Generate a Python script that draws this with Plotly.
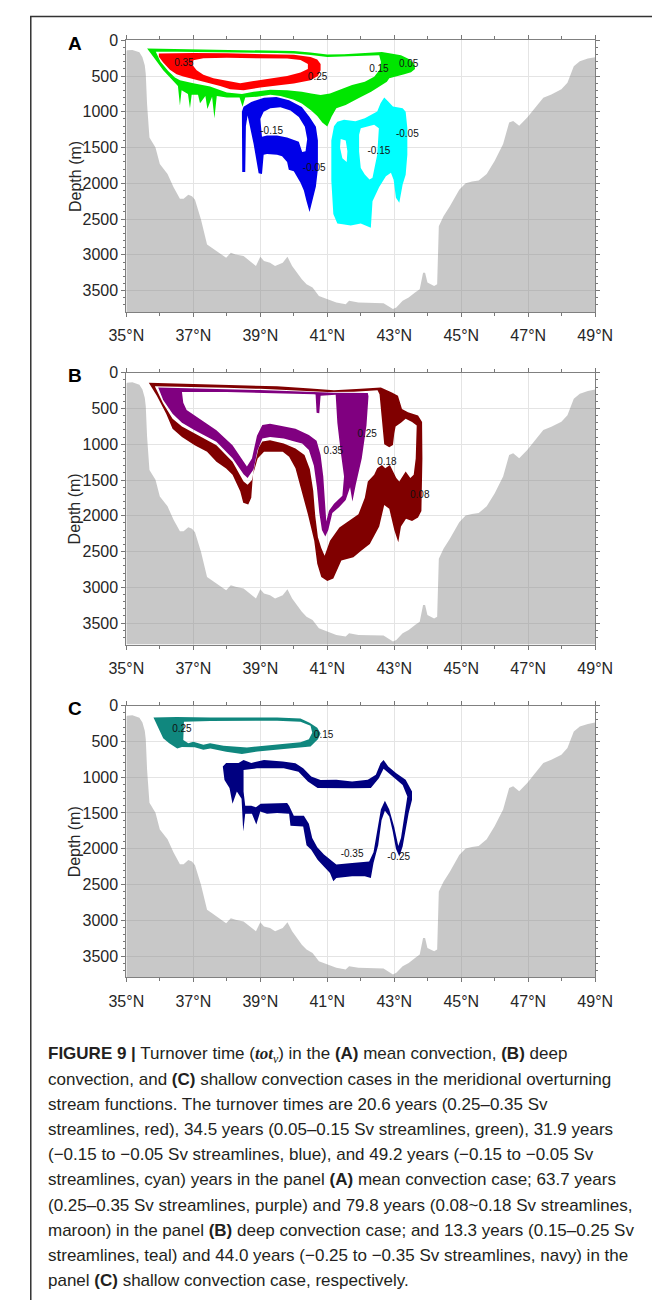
import plotly.graph_objects as go

W, H = 670, 1300

# ---------------- shared bathymetry (latitude, depth m) ----------------
bathy_lat = [35.0, 35.02, 35.18, 35.39, 35.48, 35.55, 35.58, 35.62, 35.69, 35.8, 35.87, 36.0, 36.12,
             36.23, 36.41, 36.6, 36.71, 36.85, 36.96, 37.05, 37.23, 37.41, 37.55, 37.7, 37.98, 38.12,
             38.26, 38.5, 38.73, 38.87, 39.0, 39.11, 39.29, 39.44, 39.67, 39.81, 39.95, 40.09, 40.24,
             40.38, 40.56, 40.75, 40.99, 41.27, 41.55, 41.65, 41.93, 42.31, 42.68, 42.96, 43.06, 43.25,
             43.43, 43.62, 43.76, 43.86, 43.92, 43.99, 44.19, 44.28, 44.33, 44.47, 44.66, 44.94, 45.13,
             45.32, 45.52, 45.76, 46.0, 46.25, 46.43, 46.55, 46.73, 46.97, 47.21, 47.39, 47.45, 47.69,
             47.99, 48.17, 48.36, 48.54, 48.78, 49.0]
bathy_dep = [150, 140, 134, 167, 236, 350, 470, 900, 1358, 1440, 1497, 1730, 1800,
             1868, 2054, 2216, 2216, 2159, 2180, 2230, 2507, 2854, 2900, 2947, 3040, 2970,
             2993, 3016, 3109, 3155, 3026, 3086, 3109, 3155, 3109, 3026, 3155, 3248, 3341,
             3410, 3457, 3573, 3619, 3665, 3689, 3642, 3665, 3665, 3675, 3758, 3735, 3642,
             3596, 3526, 3480, 3248, 3248, 3387, 3434, 3410, 2599, 2460, 2321, 2089, 1997,
             1974, 1960, 1868, 1683, 1451, 1150, 1127, 1196, 1080, 941, 848, 802, 756,
             686, 593, 362, 292, 255, 236]
depth_max = 3800

x_tick_vals = [35, 37, 39, 41, 43, 45, 47, 49]
x_tick_text = ["35°N", "37°N", "39°N", "41°N", "43°N", "45°N", "47°N", "49°N"]
x_minor_vals = [36, 38, 40, 42, 44, 46, 48]
y_tick_vals = [0, 500, 1000, 1500, 2000, 2500, 3000, 3500]
y_tick_text = ["0", "500", "1000", "1500", "2000", "2500", "3000", "3500"]
y_minor_vals = [v for v in range(100, 3800, 100) if v % 500 != 0]

# ---------------- Panel A : mean convection ----------------
a_green_outer = [(35.62, 115), (36.0, 118), (37.0, 125), (38.0, 130), (39.0, 138), (40.0, 150), (40.5, 170),
                 (41.0, 200), (41.5, 195), (42.0, 185), (42.4, 172), (42.63, 165), (42.9, 185), (43.2, 210),
                 (43.45, 265), (43.6, 330), (43.62, 400), (43.5, 445), (43.3, 475), (43.0, 505), (42.85, 530),
                 (42.78, 580), (42.5, 660), (42.31, 718), (41.93, 811), (41.55, 904), (41.27, 950),
                 (41.13, 1066), (41.0, 1205), (40.85, 1150), (40.7, 1060), (40.52, 980), (40.24, 885),
                 (40.0, 830), (39.6, 780), (39.3, 760), (38.9, 790), (38.55, 800), (38.47, 930), (38.38, 800),
                 (38.0, 800), (37.7, 780), (37.63, 1090), (37.56, 790), (37.42, 960), (37.36, 780), (37.2, 880),
                 (37.14, 760), (36.95, 760), (36.9, 950), (36.84, 750), (36.65, 700), (36.6, 910), (36.54, 640),
                 (36.38, 560), (36.1, 420), (35.81, 232)]
a_green_inner = [(35.88, 160), (36.5, 160), (37.5, 163), (38.5, 168), (39.5, 176), (40.0, 185), (40.5, 205),
                 (41.0, 235), (41.5, 232), (42.0, 222), (42.55, 210), (42.6, 300), (42.58, 400), (42.4, 510),
                 (42.12, 579), (41.74, 626), (41.36, 695), (41.08, 742), (40.8, 765), (40.52, 742),
                 (40.24, 718), (39.8, 700), (39.3, 690), (38.8, 720), (38.45, 750), (38.0, 730), (37.5, 645),
                 (37.0, 600), (36.6, 560), (36.45, 520), (36.25, 430), (36.02, 300)]
a_red_outer = [(35.97, 185), (36.5, 178), (37.0, 178), (38.0, 182), (39.0, 190), (40.0, 203), (40.5, 235),
               (40.7, 270), (40.8, 330), (40.8, 420), (40.72, 500), (40.5, 560), (40.0, 605), (39.5, 630),
               (39.0, 660), (38.5, 700), (38.1, 685), (37.8, 640), (37.5, 605), (37.0, 545), (36.7, 505),
               (36.5, 475), (36.3, 410), (36.1, 310), (35.97, 230)]
a_red_inner = [(37.0, 280), (37.3, 250), (38.0, 245), (39.0, 250), (39.8, 255), (40.2, 275), (40.42, 330),
               (40.42, 400), (40.2, 450), (39.8, 500), (39.3, 540), (38.8, 570), (38.4, 600), (38.0, 570),
               (37.6, 530), (37.3, 480), (37.1, 420), (36.98, 350)]
a_blue_outer = [(38.46, 1840), (38.45, 1000), (38.5, 930), (38.73, 862), (39.11, 802), (39.48, 792),
                (39.86, 839), (40.24, 932), (40.47, 1071), (40.66, 1209), (40.72, 1400), (40.72, 1800),
                (40.66, 2044), (40.52, 2322), (40.47, 2400), (40.38, 2250), (40.3, 2100), (40.2, 1990),
                (40.1, 1900), (40.0, 1830), (39.85, 1810), (39.8, 1700), (39.65, 1620), (39.5, 1600),
                (39.2, 1590), (39.1, 1600), (39.05, 1870), (38.95, 1860), (38.8, 1450), (38.62, 1050),
                (38.57, 1200), (38.55, 1840)]
a_blue_inner = [(39.0, 1100), (39.1, 1000), (39.3, 950), (39.6, 935), (39.9, 980), (40.15, 1071),
                (40.33, 1209), (40.4, 1380), (40.35, 1550), (40.25, 1560), (40.15, 1420), (40.0, 1400),
                (39.8, 1360), (39.5, 1330), (39.2, 1330), (39.05, 1350)]
a_cyan_outer = [(41.2, 1200), (41.3, 1140), (41.5, 1110), (41.84, 1130), (42.12, 1090), (42.49, 997),
                (42.59, 880), (42.7, 800), (42.82, 857), (42.96, 925), (43.25, 950), (43.34, 1000),
                (43.39, 1230), (43.39, 1600), (43.34, 1880), (43.25, 2016), (43.15, 2270), (43.05, 2200),
                (42.98, 1950), (42.9, 1850), (42.75, 1900), (42.55, 2050), (42.35, 2250), (42.3, 2620),
                (42.0, 2560), (41.7, 2590), (41.46, 2570), (41.3, 2560), (41.18, 2430), (41.12, 1960),
                (41.12, 1400)]
a_cyan_hole1 = [(42.0, 1228), (42.4, 1182), (42.54, 1228), (42.49, 1599), (42.35, 1923), (42.26, 1947),
                (42.12, 1877), (42.0, 1784), (41.95, 1553), (41.95, 1321)]
a_cyan_hole2 = [(41.4, 1380), (41.55, 1400), (41.6, 1550), (41.58, 1700), (41.45, 1650), (41.38, 1500)]
a_label_lat = [36.72, 40.71, 42.54, 43.43, 39.34, 40.61, 43.39, 42.54]
a_label_dep = [330, 524, 412, 338, 1279, 1789, 1311, 1557]
a_label_txt = ["0.35", "0.25", "0.15", "0.05", "-0.15", "-0.05", "-0.05", "-0.15"]

# ---------------- Panel B : deep convection ----------------
b_maroon_outer = [(35.67, 140), (36.5, 150), (37.5, 160), (38.5, 170), (39.5, 190), (40.5, 220), (41.2, 245),
                  (42.0, 225), (42.6, 205), (42.93, 276), (43.11, 322), (43.23, 506), (43.41, 552),
                  (43.71, 598), (43.83, 690), (43.84, 1200), (43.81, 1933), (43.71, 2025), (43.53, 2071),
                  (43.35, 2040), (43.2, 2150), (43.12, 2370), (43.0, 2200), (42.85, 1900), (42.7, 1850),
                  (42.55, 2150), (42.39, 2301), (42.27, 2394), (42.02, 2486), (41.78, 2578), (41.42, 2624),
                  (41.3, 2762), (41.18, 2877), (41.0, 2910), (40.82, 2854), (40.7, 2670), (40.61, 2348),
                  (40.42, 1979), (40.24, 1657), (40.05, 1335), (39.86, 1174), (39.67, 1104), (39.29, 1104),
                  (39.11, 1104), (38.92, 1200), (38.78, 1427), (38.73, 1749), (38.64, 1841), (38.49, 1818),
                  (38.4, 1657), (38.17, 1427), (37.98, 1340), (37.69, 1243), (37.41, 1104), (37.04, 1012),
                  (36.66, 900), (36.38, 782), (36.19, 575), (35.91, 322)]
b_maroon_inner = [(35.85, 190), (37.0, 200), (38.0, 210), (39.0, 225), (40.0, 245), (41.0, 270), (41.8, 265),
                  (42.5, 245), (42.56, 300), (42.62, 600), (42.7, 1000), (42.85, 1040), (42.96, 1010),
                  (43.0, 850), (43.04, 750), (43.2, 700), (43.34, 644), (43.53, 690), (43.67, 736),
                  (43.64, 1200), (43.58, 1427), (43.48, 1473), (43.34, 1381), (43.15, 1519), (43.06, 1473),
                  (42.87, 1289), (42.73, 1335), (42.63, 1289), (42.49, 1335), (42.4, 1427), (42.21, 1519),
                  (42.12, 1749), (41.93, 1979), (41.65, 2071), (41.36, 2164), (41.08, 2348), (40.92, 2560),
                  (40.82, 2450), (40.72, 2300), (40.64, 2000), (40.58, 1650), (40.48, 1350), (40.32, 1150),
                  (40.05, 1058), (39.7, 990), (39.29, 943), (39.06, 960), (38.95, 1050), (38.85, 1250),
                  (38.75, 1500), (38.62, 1565), (38.5, 1520), (38.17, 1243), (37.69, 1012), (37.04, 851),
                  (36.66, 750), (36.38, 644), (36.1, 430)]
b_purple_outer = [(35.95, 207), (37.0, 217), (38.0, 230), (39.0, 243), (40.0, 258), (40.5, 266), (41.2, 278),
                  (42.21, 282), (42.23, 330), (42.17, 736), (42.03, 1197), (41.85, 1565), (41.75, 1800),
                  (41.68, 1600), (41.55, 1780), (41.35, 1880), (41.15, 1960), (41.03, 2200), (40.94, 2290),
                  (40.84, 2200), (40.76, 1950), (40.69, 1600), (40.6, 1300), (40.45, 1080), (40.25, 990),
                  (40.05, 966), (39.7, 920), (39.29, 897), (39.06, 920), (38.92, 1080), (38.8, 1350),
                  (38.62, 1473), (38.5, 1420), (38.17, 1197), (37.69, 966), (37.04, 805), (36.66, 700),
                  (36.38, 575), (36.1, 380)]
b_purple_inner = [(36.66, 270), (38.0, 268), (39.0, 280), (40.0, 293), (40.6, 302), (40.65, 305), (40.68, 560),
                  (40.76, 565), (40.8, 320), (41.0, 310), (41.25, 308), (41.3, 700), (41.4, 1100),
                  (41.5, 1450), (41.45, 1720), (41.2, 1830), (41.05, 1930), (40.97, 2080), (40.93, 1800),
                  (40.88, 1450), (40.8, 1150), (40.68, 950), (40.45, 870), (40.05, 782), (39.6, 740),
                  (39.29, 713), (39.06, 730), (38.9, 880), (38.75, 1200), (38.6, 1312), (38.45, 1200),
                  (38.17, 1012), (37.69, 805), (37.04, 598), (36.8, 520), (36.7, 420)]
b_label_lat = [42.19, 41.18, 42.78, 43.76]
b_label_dep = [860, 1104, 1252, 1712]
b_label_txt = ["0.25", "0.35", "0.18", "0.08"]

# ---------------- Panel C : shallow convection ----------------
c_teal_outer = [(35.81, 165), (36.5, 160), (37.5, 165), (38.5, 160), (39.5, 165), (40.2, 180), (40.47, 240),
                (40.7, 310), (40.8, 390), (40.72, 470), (40.5, 570), (39.86, 600), (38.92, 640), (38.45, 675),
                (37.98, 645), (37.51, 600), (37.3, 615), (37.04, 580), (36.66, 578), (36.52, 600),
                (36.28, 525), (36.1, 456), (35.95, 316)]
c_teal_inner = [(36.72, 225), (37.5, 213), (38.5, 210), (39.5, 212), (40.2, 225), (40.5, 280), (40.55, 380),
                (40.45, 470), (40.2, 510), (39.8, 530), (39.2, 555), (38.6, 585), (38.3, 575), (37.9, 560),
                (37.5, 525), (37.3, 545), (37.0, 505), (36.85, 525), (36.7, 480)]
c_navy_outer = [(37.88, 850), (37.98, 800), (38.35, 800), (38.5, 758), (38.73, 800), (39.11, 760), (39.67, 780),
                (40.05, 805), (40.28, 875), (40.52, 990), (40.8, 1040), (41.27, 1037), (41.74, 1060),
                (42.21, 1037), (42.45, 967), (42.59, 805), (42.68, 758), (42.82, 850), (43.06, 944),
                (43.34, 1037), (43.53, 1200), (43.53, 1316), (43.43, 1502), (43.34, 1735), (43.25, 1967),
                (43.15, 2107), (43.05, 2000), (42.95, 1750), (42.85, 1550), (42.72, 1470), (42.62, 1600),
                (42.52, 1950), (42.38, 2200), (42.3, 2410), (42.12, 2386), (41.74, 2386), (41.27, 2409),
                (41.18, 2455), (41.08, 2339), (40.89, 2246), (40.71, 2153), (40.52, 2013), (40.38, 1950),
                (40.28, 1690), (40.0, 1690), (39.9, 1680), (39.86, 1510), (39.5, 1500), (39.2, 1510),
                (39.0, 1480), (38.88, 1660), (38.75, 1510), (38.55, 1510), (38.49, 1760), (38.44, 1300),
                (38.3, 1200), (38.17, 1370), (38.08, 1150), (37.93, 1040), (37.88, 900)]
c_navy_inner = [(38.5, 900), (38.9, 875), (39.7, 875), (40.14, 925), (40.42, 1060), (40.71, 1150), (41.0, 1150),
                (41.74, 1155), (42.3, 1150), (42.54, 1015), (42.68, 880), (42.96, 990), (43.25, 1110),
                (43.39, 1270), (43.3, 1550), (43.2, 1850), (43.12, 1960), (43.0, 1700), (42.85, 1450),
                (42.72, 1330), (42.6, 1450), (42.5, 1750), (42.38, 2050), (42.25, 2180), (41.74, 2200),
                (41.27, 2220), (41.1, 2160), (40.9, 2080), (40.7, 1980), (40.55, 1850), (40.45, 1650),
                (40.3, 1540), (40.0, 1540), (39.86, 1400), (39.8, 1360), (39.57, 1360), (39.2, 1370),
                (39.01, 1370), (38.87, 1420), (38.73, 1400), (38.55, 1400), (38.5, 1200)]
c_label_lat = [36.66, 40.89, 41.74, 43.13]
c_label_dep = [330, 423, 2083, 2116]
c_label_txt = ["0.25", "0.15", "-0.35", "-0.25"]

caption_lines = [
    "<b>FIGURE 9 |</b> Turnover time (<span style=\"font-family:'Liberation Serif'\"><b><i>tot</i></b><sub><i>v</i></sub></span>) in the <b>(A)</b> mean convection, <b>(B)</b> deep",
    "convection, and <b>(C)</b> shallow convection cases in the meridional overturning",
    "stream functions. The turnover times are 20.6 years (0.25–0.35 Sv",
    "streamlines, red), 34.5 years (0.05–0.15 Sv streamlines, green), 31.9 years",
    "(−0.15 to −0.05 Sv streamlines, blue), and 49.2 years (−0.15 to −0.05 Sv",
    "streamlines, cyan) years in the panel <b>(A)</b> mean convection case; 63.7 years",
    "(0.25–0.35 Sv streamlines, purple) and 79.8 years (0.08~0.18 Sv streamlines,",
    "maroon) in the panel <b>(B)</b> deep convection case; and 13.3 years (0.15–0.25 Sv",
    "streamlines, teal) and 44.0 years (−0.25 to −0.35 Sv streamlines, navy) in the",
    "panel <b>(C)</b> shallow convection case, respectively.",
]
caption_y = [1053, 1078, 1103.5, 1128.5, 1153.5, 1178.5, 1204.5, 1230, 1255, 1280]

panel_letters = ["A", "B", "C"]
panel_top = [32.5, 367.0, 702.0]
panel_bot = [306.0, 640.5, 975.5]
plot_left, plot_right = 114.5, 610.0


def px_x(p):
    return p / W


def px_y(p):
    return 1 - p / H


def band(outer, holes):
    xs = [p[0] for p in outer] + [outer[0][0]]
    ys = [p[1] for p in outer] + [outer[0][1]]
    for h in holes:
        hr = h[::-1]
        xs += [p[0] for p in hr] + [hr[0][0], outer[0][0]]
        ys += [p[1] for p in hr] + [hr[0][1], outer[0][1]]
    return xs, ys


panels = [
    dict(bands=[(a_green_outer, [a_green_inner], "#00e600"),
                (a_red_outer, [a_red_inner], "#ff0000"),
                (a_blue_outer, [a_blue_inner], "#0000e8"),
                (a_cyan_outer, [a_cyan_hole1, a_cyan_hole2], "#00ffff")],
         labels=(a_label_lat, a_label_dep, a_label_txt)),
    dict(bands=[(b_maroon_outer, [b_maroon_inner], "#800000"),
                (b_purple_outer, [b_purple_inner], "#800080")],
         labels=(b_label_lat, b_label_dep, b_label_txt)),
    dict(bands=[(c_teal_outer, [c_teal_inner], "#10877e"),
                (c_navy_outer, [c_navy_inner], "#000080")],
         labels=(c_label_lat, c_label_dep, c_label_txt)),
]

fig = go.Figure()
axis_font = dict(family="Liberation Sans, Arial, sans-serif", size=16, color="#262626")
annotations = []
layout_axes = {}

for i, pdef in enumerate(panels):
    sfx = "" if i == 0 else str(i + 1)
    xr, yr = "x" + sfx, "y" + sfx
    # bathymetry
    fig.add_trace(go.Scatter(
        x=bathy_lat + [49.0, 35.0], y=bathy_dep + [depth_max, depth_max],
        xaxis=xr, yaxis=yr, mode="lines", fill="toself",
        fillcolor="rgba(128,128,128,0.43)", line=dict(width=0), hoverinfo="skip"))
    for outer, holes, col in pdef["bands"]:
        xs, ys = band(outer, holes)
        fig.add_trace(go.Scatter(x=xs, y=ys, xaxis=xr, yaxis=yr, mode="lines",
                                 fill="toself", fillcolor=col, line=dict(width=0, color=col),
                                 hoverinfo="skip"))
    lat, dep, txt = pdef["labels"]
    fig.add_trace(go.Scatter(x=lat, y=dep, text=txt, mode="text", xaxis=xr, yaxis=yr,
                             textfont=dict(family="Liberation Sans, Arial", size=10, color="#111111"),
                             hoverinfo="skip"))

    top, bot = panel_top[i], panel_bot[i]
    layout_axes["xaxis" + sfx] = dict(
        domain=[px_x(plot_left), px_x(plot_right)], range=[35, 49], anchor=yr,
        tickmode="array", tickvals=x_tick_vals, ticktext=x_tick_text,
        ticks="outside", ticklen=4, tickcolor="#777777", tickwidth=1,
        minor=dict(tickmode="array", tickvals=x_minor_vals, ticks="outside", ticklen=3,
                   tickcolor="#777777", showgrid=False),
        showline=True, linecolor="#808080", linewidth=1, mirror="ticks",
        showgrid=True, gridcolor="#e4e4e4", gridwidth=1, zeroline=False,
        tickfont=axis_font, ticklabelstandoff=5)
    layout_axes["yaxis" + sfx] = dict(
        domain=[px_y(bot), px_y(top)], range=[depth_max, 0], anchor=xr,
        tickmode="array", tickvals=y_tick_vals, ticktext=y_tick_text,
        ticks="outside", ticklen=4, tickcolor="#777777", tickwidth=1,
        minor=dict(tickmode="array", tickvals=y_minor_vals, ticks="outside", ticklen=2,
                   tickcolor="#777777", showgrid=False),
        showline=True, linecolor="#808080", linewidth=1, mirror="ticks",
        showgrid=True, gridcolor="#e4e4e4", gridwidth=1, zeroline=False,
        tickfont=axis_font)
    annotations.append(dict(text="Depth (m)", textangle=-90, xref="paper", yref="paper",
                            x=px_x(60), y=px_y((top + bot) / 2), xanchor="center", yanchor="middle",
                            showarrow=False, font=axis_font))
    annotations.append(dict(text="<b>" + panel_letters[i] + "</b>", xref="paper", yref="paper",
                            x=px_x(60), y=px_y(top + 3), xanchor="center", yanchor="middle",
                            showarrow=False,
                            font=dict(family="Liberation Sans, Arial", size=19, color="#000000")))

for line, cy in zip(caption_lines, caption_y):
    annotations.append(dict(text=line, xref="paper", yref="paper", x=px_x(30), y=px_y(cy),
                            xanchor="left", yanchor="middle", showarrow=False, align="left",
                            font=dict(family="Liberation Sans, Arial", size=17, color="#231f20")))

shapes = [dict(type="path", xref="paper", yref="paper",
               path="M {:.5f},{:.5f} L {:.5f},{:.5f} L {:.5f},{:.5f}".format(
                   px_x(13.5), px_y(1300), px_x(13.5), px_y(8.5), px_x(670), px_y(8.5)),
               line=dict(color="#333333", width=1.5))]

fig.update_layout(width=W, height=H, margin=dict(l=0, r=0, t=0, b=0),
                  paper_bgcolor="white", plot_bgcolor="white", showlegend=False,
                  annotations=annotations, shapes=shapes, **layout_axes)

fig.write_html("out.html", config={"displayModeBar": False},
               post_script="document.body.style.margin='0';document.body.style.overflow='hidden';")
